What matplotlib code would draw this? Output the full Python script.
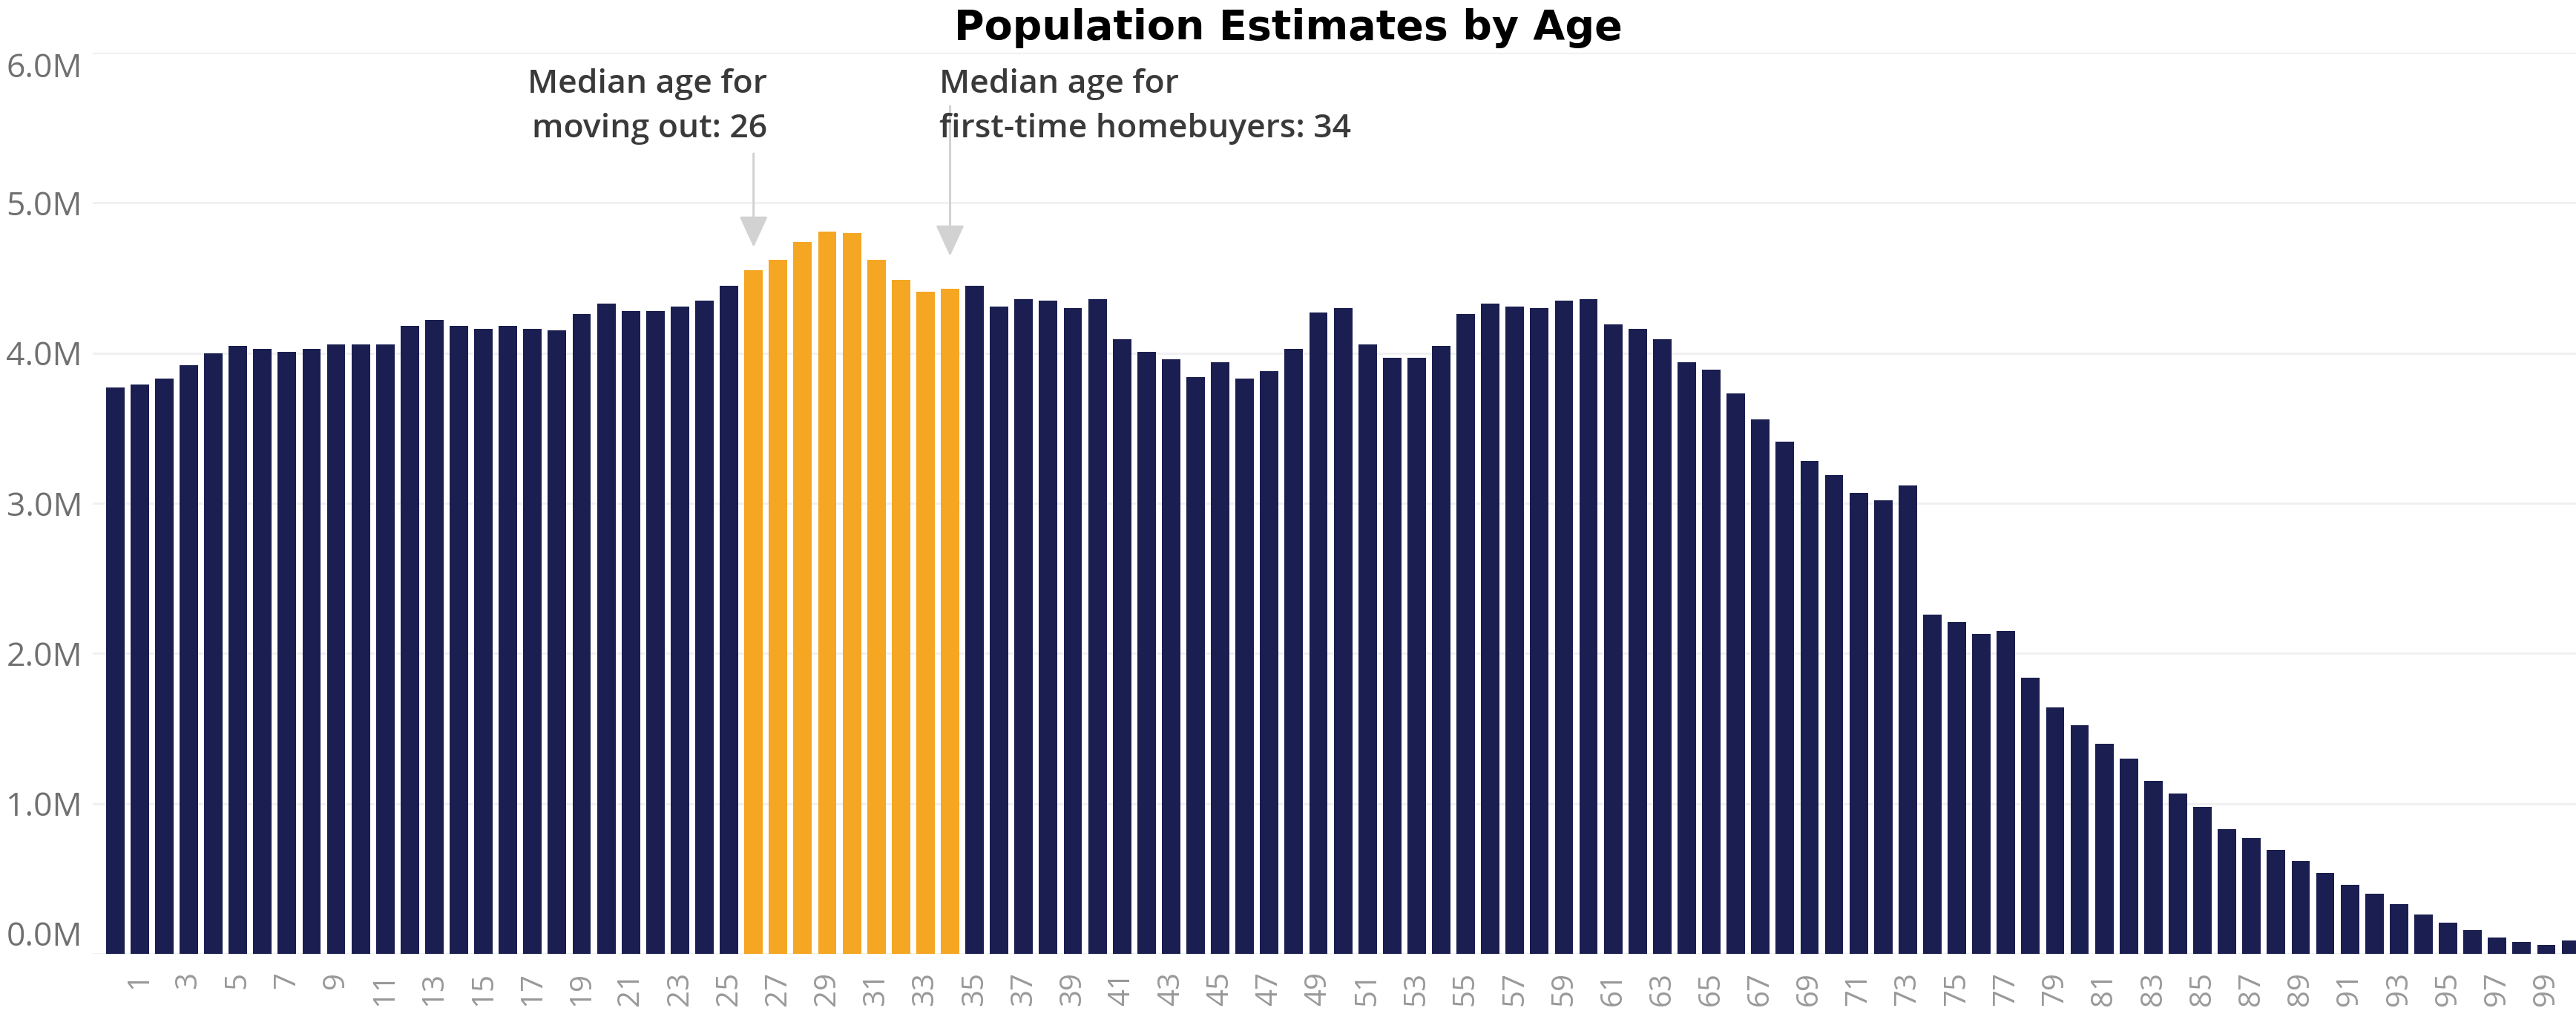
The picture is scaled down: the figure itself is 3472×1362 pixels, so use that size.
import numpy as np
import matplotlib
matplotlib.use("Agg")
import matplotlib.pyplot as plt
from matplotlib.ticker import FuncFormatter

# single-year ages 0..100
ages = np.arange(0, 101)

# population by age, millions
population_m = [
    3.77, 3.79, 3.83, 3.92, 4.00, 4.05, 4.03, 4.01, 4.03, 4.06,   # 0-9
    4.06, 4.06, 4.18, 4.22, 4.18, 4.16, 4.18, 4.16, 4.15, 4.26,   # 10-19
    4.33, 4.28, 4.28, 4.31, 4.35, 4.45, 4.55, 4.62, 4.74, 4.81,   # 20-29
    4.80, 4.62, 4.49, 4.41, 4.43, 4.45, 4.31, 4.36, 4.35, 4.30,   # 30-39
    4.36, 4.09, 4.01, 3.96, 3.84, 3.94, 3.83, 3.88, 4.03, 4.27,   # 40-49
    4.30, 4.06, 3.97, 3.97, 4.05, 4.26, 4.33, 4.31, 4.30, 4.35,   # 50-59
    4.36, 4.19, 4.16, 4.09, 3.94, 3.89, 3.73, 3.56, 3.41, 3.28,   # 60-69
    3.19, 3.07, 3.02, 3.12, 2.26, 2.21, 2.13, 2.15, 1.84, 1.64,   # 70-79
    1.52, 1.40, 1.30, 1.15, 1.07, 0.98, 0.83, 0.77, 0.69, 0.62,   # 80-89
    0.54, 0.46, 0.40, 0.33, 0.26, 0.21, 0.16, 0.11, 0.08, 0.06,   # 90-99
    0.09,                                                          # 100
]

# ages between the two medians get the accent colour
median_move_out = 26
median_first_home = 34

y_ticks_m = [0, 1, 2, 3, 4, 5, 6]
x_tick_ages = list(range(1, 100, 2))

NAVY = "#1a1e50"
ORANGE = "#f5a623"

values = np.array(population_m) * 1e6
colors = [ORANGE if median_move_out <= a <= median_first_home else NAVY for a in ages]

W, H = 3473, 1362
fig = plt.figure(figsize=(W / 100, H / 100), dpi=100)
fig.patch.set_facecolor("white")

# plot area in pixels: left 125, top 71, bottom 1285, right edge of the figure
ax = fig.add_axes([125 / W, (H - 1285) / H, 1 - 125 / W, (1285 - 71) / H])

ax.bar(ages, values, width=0.75, color=colors, zorder=2)

ax.set_xlim(-0.91, 100.24)
ax.set_ylim(0, 6e6)

for side in ax.spines.values():
    side.set_visible(False)

ax.set_yticks([v * 1e6 for v in y_ticks_m])
ax.yaxis.set_major_formatter(FuncFormatter(lambda v, _: f"{v / 1e6:.1f}M"))
ax.tick_params(axis="y", length=0, pad=10, labelsize=32, labelcolor="#707070")
for lab in ax.get_yticklabels():
    lab.set_fontfamily(["Open Sans", "DejaVu Sans"])
ticks = ax.yaxis.get_major_ticks()
ticks[0].label1.set_verticalalignment("bottom")
ticks[-1].label1.set_verticalalignment("top")

ax.set_xticks(x_tick_ages)
ax.set_xticklabels([str(a) for a in x_tick_ages], rotation=90)
ax.tick_params(axis="x", length=0, pad=17, labelsize=29, labelcolor="#999999")
for lab in ax.get_xticklabels():
    lab.set_fontfamily(["Open Sans", "DejaVu Sans"])

ax.set_axisbelow(True)
ax.yaxis.grid(True, color="#f0f0f0", lw=2)
ax.xaxis.grid(False)

# px -> data helpers for the callouts (202.33 px per million)
def y_at(px):
    return (1285 - px) / ((1285 - 71) / 6) * 1e6

note_kw = dict(fontsize=32, fontweight="semibold", color="#3a3a3a",
               family=["Open Sans", "DejaVu Sans"], va="baseline", zorder=4)

ax.text(median_move_out + 0.56, y_at(125), "Median age for", ha="right", **note_kw)
ax.text(median_move_out + 0.56, y_at(185), f"moving out: {median_move_out}", ha="right", **note_kw)
ax.text(median_first_home - 0.45, y_at(125), "Median age for", ha="left", **note_kw)
ax.text(median_first_home - 0.45, y_at(185), f"first-time homebuyers: {median_first_home}",
        ha="left", **note_kw)

arrow_kw = dict(arrowstyle="-|>,head_length=26,head_width=12", mutation_scale=1,
                color="#d2d2d2", lw=2.2, shrinkA=0, shrinkB=0)
ax.annotate("", xy=(median_move_out, y_at(333)), xytext=(median_move_out, y_at(207)),
            arrowprops=arrow_kw, zorder=3)
ax.annotate("", xy=(median_first_home, y_at(345)), xytext=(median_first_home, y_at(143)),
            arrowprops=arrow_kw, zorder=3)

fig.text(0.5, (H - 53) / H, "Population Estimates by Age", ha="center", va="baseline",
         fontsize=40, fontweight="bold", color="black", family=["DejaVu Sans"])

fig.savefig("out.png", dpi=100, facecolor="white")
